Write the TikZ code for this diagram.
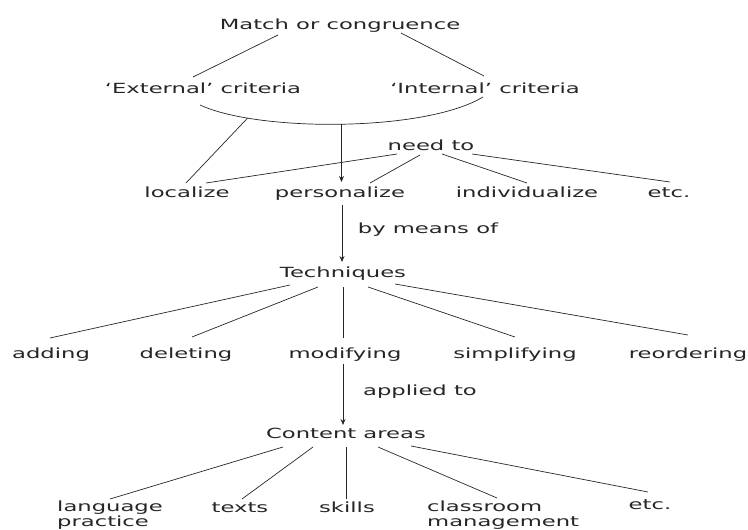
\documentclass[tikz,border=0pt]{standalone}
\usepackage{fontspec}
\newfontfamily\lbfont[FakeStretch=1.62]{DejaVu Sans}
\usetikzlibrary{arrows.meta,calc}
\definecolor{ink}{HTML}{262626}
\begin{document}
\begin{tikzpicture}[x=1pt,y=-1pt,
  lbl/.style={font=\lbfont\fontsize{14}{14.5}\selectfont, text=ink, inner sep=0pt, anchor=base},
  lbl2/.style={lbl, anchor=north west, align=left},
  ln/.style={draw=ink, line width=0.7pt},
  arr/.style={ln, -{Stealth[length=6pt,width=5pt]}}]
\useasboundingbox (0,0) rectangle (748,530);
% nodes
\node[lbl] (match) at (340,29) {Match or congruence};
\node[lbl] (ext) at (203,93) {‘External’ criteria};
\node[lbl] (int) at (485,93) {‘Internal’ criteria};
\node[lbl] (needto) at (431,150) {need to};
\node[lbl] (loc) at (187,197) {localize};
\node[lbl] (pers) at (340,197) {personalize};
\node[lbl] (indiv) at (527,197) {individualize};
\node[lbl] (etca) at (669,197) {etc.};
\node[lbl] (bymeans) at (428,233) {by means of};
\node[lbl] (tech) at (343,277) {Techniques};
\node[lbl] (adding) at (51,358) {adding};
\node[lbl] (deleting) at (186,358) {deleting};
\node[lbl] (modifying) at (345,358) {modifying};
\node[lbl] (simplifying) at (515,358) {simplifying};
\node[lbl] (reordering) at (688,358) {reordering};
\node[lbl] (applied) at (420,395) {applied to};
\node[lbl] (content) at (346,438) {Content areas};
\node[lbl2] (lang) at (57,501) {language\\practice};
\node[lbl] (texts) at (240,512) {texts};
\node[lbl] (skills) at (347,512) {skills};
\node[lbl2] (class) at (427,501) {classroom\\management};
\node[lbl] (etcb) at (650,509) {etc.};
% top
\draw[ln] ($(match.base)+(-62,6)$) -- ($(ext.base)+(-10,-16)$);
\draw[ln] ($(match.base)+(61,4)$) -- ($(int.base)+(-1,-17)$);
\draw[ln] ($(ext.base)+(-3,12)$) .. controls (258,132) and (425,132) .. coordinate[pos=0.205] (arcl) coordinate[pos=0.5] (arcmid) ($(int.base)+(-2,4)$);
\draw[arr] (arcmid) -- ($(pers.base)+(1.5,-15)$);
\draw[ln] (arcl) -- ($(loc.base)+(-1,-14)$);
\draw[ln] ($(needto.base)+(-34,4)$) -- ($(loc.base)+(19,-14)$);
\draw[ln] ($(needto.base)+(-11,5)$) -- ($(pers.base)+(30,-14)$);
\draw[ln] ($(needto.base)+(11,4)$) -- ($(indiv.base)+(0,-14)$);
\draw[ln] ($(needto.base)+(41,4)$) -- ($(etca.base)+(1,-15)$);
% techniques
\draw[arr] ($(pers.base)+(2,8)$) -- ($(tech.base)+(-1,-15)$);
\draw[ln] ($(tech.base)+(-53,8)$) -- ($(adding.base)+(-1,-20)$);
\draw[ln] ($(tech.base)+(-25,10)$) -- ($(deleting.base)+(6,-21)$);
\draw[ln] ($(tech.base)+(0,10)$) -- ($(modifying.base)+(-2,-20)$);
\draw[ln] ($(tech.base)+(25,10)$) -- ($(simplifying.base)+(0,-21)$);
\draw[ln] ($(tech.base)+(52,7)$) -- ($(reordering.base)+(0,-23)$);
% content
\draw[arr] ($(modifying.base)+(-2,6)$) -- ($(content.base)+(-3,-13)$);
\draw[ln] ($(content.base)+(-63,9)$) -- ($(lang.north west)+(53,-2)$);
\draw[ln] ($(content.base)+(-33,9)$) -- ($(texts.base)+(2,-13)$);
\draw[ln] ($(content.base)+(0,9)$) -- ($(skills.base)+(-1,-13)$);
\draw[ln] ($(content.base)+(32,9)$) -- ($(class.north west)+(70,-3)$);
\draw[ln] ($(content.base)+(65,8)$) -- ($(etcb.base)+(-2,-17)$);
\end{tikzpicture}
\end{document}
